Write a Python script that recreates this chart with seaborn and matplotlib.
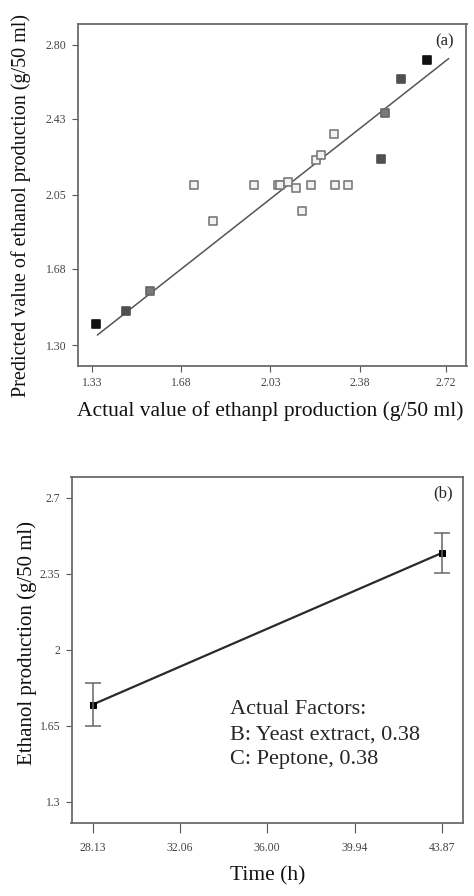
import numpy as np
import pandas as pd
import matplotlib
matplotlib.use("Agg")
import matplotlib.pyplot as plt
import seaborn as sns

sns.set_theme(style="white")
plt.rcParams['font.family'] = ['Liberation Serif', 'DejaVu Serif']

# Panel (a): actual vs predicted
actual = [1.346, 1.461, 1.558, 1.729, 1.804, 1.967, 2.058, 2.067, 2.097, 2.132,
          2.154, 2.188, 2.208, 2.228, 2.281, 2.282, 2.336, 2.466, 2.479, 2.541, 2.644]
predicted = [1.405, 1.471, 1.569, 2.097, 1.918, 2.097, 2.097, 2.097, 2.114, 2.084,
             1.968, 2.097, 2.225, 2.250, 2.355, 2.097, 2.097, 2.230, 2.458, 2.627, 2.724]
level = ["k", "d", "m", "l", "l", "l", "l", "l", "l", "l",
         "l", "l", "l", "l", "l", "l", "l", "d", "m", "d", "k"]
a_xticks = [1.33, 1.68, 2.03, 2.38, 2.72]
a_yticks = [1.30, 1.68, 2.05, 2.43, 2.80]
ref_line = [1.35, 2.73]

# Panel (b): ethanol vs time
time_h = [28.13, 43.87]
ethanol = [1.748, 2.445]
err = [0.097, 0.092]
b_xticks = [28.13, 32.06, 36.00, 39.94, 43.87]
b_yticks = [1.3, 1.65, 2.0, 2.35, 2.7]
b_ytick_labels = ["1.3", "1.65", "2", "2.35", "2.7"]
factor_lines = ["Actual Factors:", "B: Yeast extract, 0.38", "C: Peptone, 0.38"]

fig = plt.figure(figsize=(4.74, 8.96), dpi=100)
W, H = 474, 896
def rect(l, t, r, b):
    return [l / W, 1 - b / H, (r - l) / W, (b - t) / H]

ax1 = fig.add_axes(rect(77.5, 24.5, 466.5, 365.5))
ax2 = fig.add_axes(rect(71.5, 476.5, 463, 823))

spine_c = "#6b6b6b"
tick_c = "#555555"

df_a = pd.DataFrame({"actual": actual, "predicted": predicted, "level": level})
face = {"k": "#111111", "d": "#505050", "m": "#7a7a7a", "l": "#f2f2f2"}
edge = {"k": "#111111", "d": "#505050", "m": "#666666", "l": "#7a7a7a"}
sns.lineplot(x=ref_line, y=ref_line, ax=ax1, color="#555555", lw=1.1)
for lv in ["l", "m", "d", "k"]:
    sub = df_a[df_a["level"] == lv]
    sns.scatterplot(data=sub, x="actual", y="predicted", ax=ax1, marker="s", s=28,
                    color=face[lv], edgecolor=edge[lv], linewidth=1.2, zorder=3)

ax1.set_xlim(1.272, 2.80)
ax1.set_ylim(1.198, 2.90)
ax1.set_xticks(a_xticks)
ax1.set_xticklabels([f"{v:.2f}" for v in a_xticks])
ax1.set_yticks(a_yticks)
ax1.set_yticklabels([f"{v:.2f}" for v in a_yticks])
ax1.set_xlabel("Actual value of ethanpl production (g/50 ml)", fontsize=15.5,
               color="#111111")
ax1.xaxis.set_label_coords(0.495, -0.105)
ax1.set_ylabel("Predicted value of ethanol production (g/50 ml)", fontsize=14.5,
               color="#111111")
ax1.yaxis.set_label_coords(-0.119, 0.47)
ax1.text(0.968, 0.975, "(a)", transform=ax1.transAxes, ha="right", va="top", fontsize=12)

df_b = pd.DataFrame({"time": time_h, "ethanol": ethanol})
sns.lineplot(data=df_b, x="time", y="ethanol", ax=ax2, color="#2a2a2a", lw=1.6,
             marker="s", markersize=5, markerfacecolor="#000000", markeredgecolor="#000000")
ax2.errorbar(time_h, ethanol, yerr=err, fmt="none", ecolor="#666666", elinewidth=1.1,
             capsize=6, capthick=1.1)
ax2.set_xlim(27.17, 44.83)
ax2.set_ylim(1.203, 2.797)
ax2.set_xticks(b_xticks)
ax2.set_xticklabels([f"{v:.2f}" for v in b_xticks])
ax2.set_yticks(b_yticks)
ax2.set_yticklabels(b_ytick_labels)
ax2.set_xlabel("Time (h)", fontsize=15.5, color="#111111")
ax2.xaxis.set_label_coords(0.5, -0.125)
ax2.set_ylabel("Ethanol production (g/50 ml)", fontsize=15, color="#111111")
ax2.yaxis.set_label_coords(-0.087, 0.52)
ax2.text(0.975, 0.975, "(b)", transform=ax2.transAxes, ha="right", va="top", fontsize=12)
for txt, yf in zip(factor_lines, [0.329, 0.254, 0.182]):
    ax2.text(0.405, yf, txt, transform=ax2.transAxes, ha="left", va="center", fontsize=16)

for ax in (ax1, ax2):
    for s in ax.spines.values():
        s.set_color(spine_c)
        s.set_linewidth(1.3)
    ax.tick_params(axis="both", which="major", direction="out", length=4, width=0.8,
                   color=tick_c, labelsize=8.5, labelcolor="#444444", pad=4,
                   bottom=True, left=True)
ax2.tick_params(axis="x", length=7, pad=7)

fig.savefig("out.png", dpi=100, facecolor="white")
